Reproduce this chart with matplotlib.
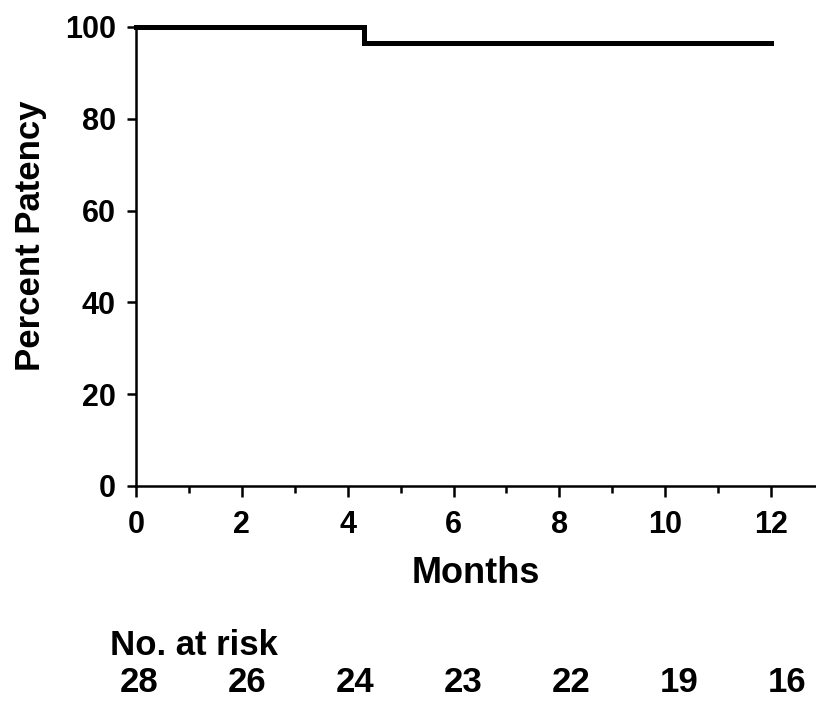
import matplotlib
matplotlib.use("Agg")
import numpy as np
import matplotlib.pyplot as plt
from matplotlib.ticker import MultipleLocator

plt.rcParams['font.family'] = ['Liberation Sans', 'DejaVu Sans']
plt.rcParams['font.weight'] = 'bold'

# Kaplan-Meier steps (months, percent)
event_times = [0, 4.3, 12]
patency = [100, 96.4, 96.4]

risk_months = [0, 2, 4, 6, 8, 10, 12]
at_risk = [28, 26, 24, 23, 22, 19, 16]

fig = plt.figure(figsize=(8.16, 7.04), dpi=100)
ax = fig.add_axes([0.1667, 0.3097, 0.8333, 0.652])

ax.step(event_times, patency, where='post', color='black', lw=3.6,
        solid_joinstyle='miter', clip_on=False, zorder=3)

ax.set_xlim(0, 12.85)
ax.set_ylim(0, 100)
ax.spines['top'].set_visible(False)
ax.spines['right'].set_visible(False)
ax.spines['left'].set_linewidth(1.8)
ax.spines['bottom'].set_linewidth(1.8)

ax.xaxis.set_major_locator(MultipleLocator(2))
ax.xaxis.set_minor_locator(MultipleLocator(1))
ax.yaxis.set_major_locator(MultipleLocator(20))
ax.tick_params(axis='y', which='major', length=6.5, width=1.8, labelsize=22, pad=8)
ax.tick_params(axis='x', which='major', length=8, width=1.8, labelsize=22, pad=9)
ax.tick_params(axis='x', which='minor', length=5, width=1.8)
for lab in ax.get_xticklabels() + ax.get_yticklabels():
    lab.set_fontweight('bold')

ax.set_xlabel('Months', fontsize=26, fontweight='bold', labelpad=12)
ax.set_ylabel('Percent Patency', fontsize=25, fontweight='bold')
ax.yaxis.set_label_coords(-0.131, 0.546)

# number at risk table
fig.text(0.135, 0.083, 'No. at risk', fontsize=25, fontweight='bold', ha='left', va='center')
risk_x = np.linspace(139 / 816, 787 / 816, len(risk_months))
for xp, n in zip(risk_x, at_risk):
    fig.text(xp, 0.03, str(n), fontsize=25, fontweight='bold', ha='center', va='center')

fig.savefig('out.png', dpi=100)
